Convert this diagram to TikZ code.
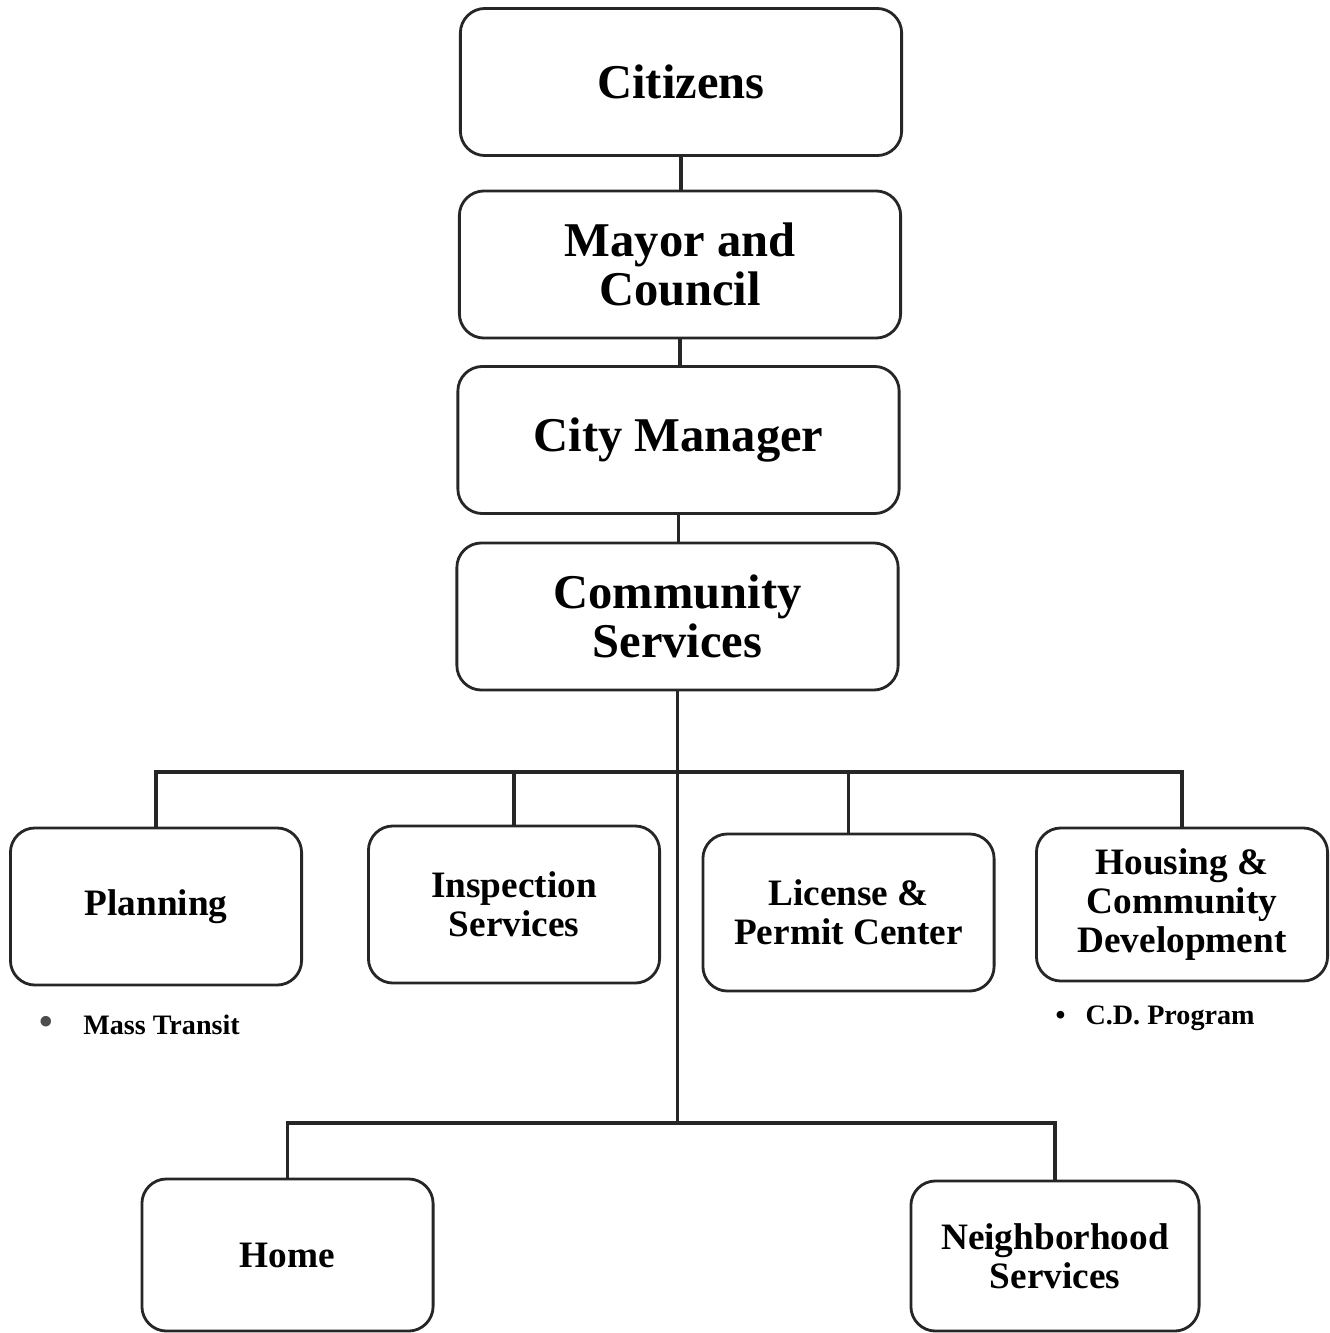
\documentclass[tikz,border=0pt]{standalone}
\usepackage{fontspec}
\setmainfont{Liberation Serif}
\usepackage{tikz}
\usetikzlibrary{positioning}
\tikzset{
  box/.style={
    draw=black!85,
    line width=0.8pt,
    rounded corners=7pt,
    align=center,
    inner sep=0pt
  },
  topbox/.style={
    box,
    minimum width=441\pxu, minimum height=147\pxu,
    font=\bfseries\fontsize{13.8}{14}\selectfont
  },
  unitbox/.style={
    box,
    minimum width=291\pxu, minimum height=155\pxu,
    font=\bfseries\fontsize{10.6}{11}\selectfont
  },
  note/.style={
    anchor=west, inner sep=0pt,
    font=\bfseries\fontsize{8}{9}\selectfont
  },
  link/.style={draw=black!85, line width=0.9pt}
}
\newcommand{\pxu}{mm*0.1}

\begin{document}
\begin{tikzpicture}[x=0.01cm, y=-0.01cm]
        \useasboundingbox (0,0) rectangle (1330,1333);
        % top of the chart
        \node [topbox] (Cit) at (681,82) {Citizens};
        \node [topbox] (May) at (680,264.5) {Mayor and\\Council};
        \node [topbox] (CM) at (678.5,440) {City Manager};
        \node [topbox] (CS) at (677.5,616.5) {Community\\Services};
        % divisions
        \node [unitbox, minimum height=157\pxu] (Plan) at (156,906.5) {Planning};
        \node [unitbox, minimum height=157\pxu] (Insp) at (514,904.5) {Inspection\\Services};
        \node [unitbox, minimum height=157\pxu] (Lic) at (848.5,912.5) {License \&\\Permit Center};
        \node [unitbox, minimum height=153\pxu] (Hous) at (1182,904.5) {Housing \&\\Community\\Development};
        \node [unitbox, minimum height=152\pxu] (Home) at (287.5,1255) {Home};
        \node [unitbox, minimum width=288\pxu, minimum height=150\pxu] (NS) at (1055,1256) {Neighborhood\\Services};
        % programs
        \node [note] (MT) at (39,1025) {\textcolor{black!70}{\fontsize{11}{11}\selectfont\textbullet}\hspace{3mm}Mass Transit};
        \node [note] (CD) at (1055,1018) {\textbullet\hspace{2mm}C.D. Program};
        % connectors
        \coordinate (Bus) at (677.5,772);
        \coordinate (Low) at (677.5,1123);
        \draw [link] (Cit.south) -- (Cit.south |- May.north);
        \draw [link] (May.south) -- (May.south |- CM.north);
        \draw [link] (CM.south) -- (CM.south |- CS.north);
        \draw [link] (CS.south) -- (Low);
        \draw [link] (Plan.north) |- (Bus) -| (Hous.north);
        \draw [link] (Insp.north) -- (Insp.north |- Bus);
        \draw [link] (Lic.north) -- (Lic.north |- Bus);
        \draw [link] (Home.north) |- (Low) -| (NS.north);
      \end{tikzpicture}
\end{document}
